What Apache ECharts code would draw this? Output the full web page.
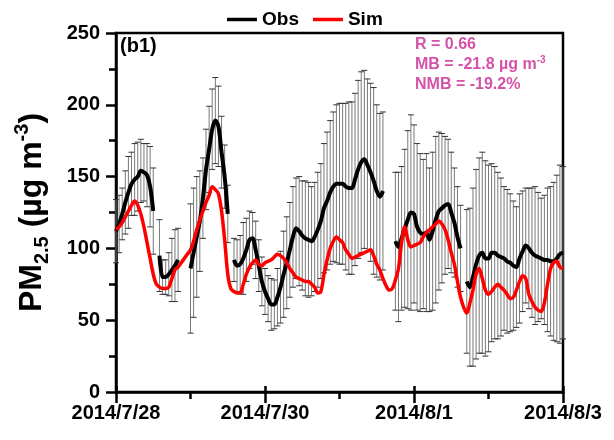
<!DOCTYPE html>
<html>
<head>
<meta charset="utf-8">
<script src="https://cdn.jsdelivr.net/npm/echarts@6/dist/echarts.min.js"></script>
<style>
  html, body { margin: 0; padding: 0; background: #fff; }
  #chart { width: 614px; height: 440px; }
</style>
</head>
<body>
<div id="chart"></div>
<script>
// hourly values from 2014/7/28 00:00 (index = hour)
const dateLabels = ['2014/7/28', '2014/7/30', '2014/8/1', '2014/8/3']

const obsPM = [
  112, 117, 124, 132, 139, 145, 148, 150, 154, 153, 151, 143, 126, null, 95, 80, 80, 82, 85, 88, 92, null, null, null,
  86, 97, 108, 119, 135, 155, 169, 183, 189, 185, 167, 150, 124, null, 92, 88, 89, 93, 99, 106, 107, 99, 88, 77,
  70, 65, 61, 61, 66, 73, 82, 90, 99, 108, 114, 112, 109, 107, 106, 105, 108, 113, 119, 128, 133, 139, 143, 145,
  145, 145, 143, 142, 142, 148, 155, 160, 162, 158, 153, 147, 140, 136, 140, null, null, null, 105, 101, 107, 114, 120, 125,
  124, 115, 111, 110, 111, 106, 112, 120, 126, 128, 130, 131, 125, 118, 108, 100, null, 77, 73, 80, 89, 95, 97, 93,
  93, 97, 97, 95, 94, 93, 91, 90, 88, 87, 93, 98, 102, 100, 97, 95, 94, 93, 92, 92, 91, 91, 93, 96, 97
]

const obsSD = [
  22, 20, 18, 22, 25, 22, 25, 24, 22, 20, 22, 28, 30, null, 25, 12, 12, 15, 22, 25, 22, null, null, null,
  45, 45, 42, 35, 28, 28, 30, 28, 30, 28, 25, 22, 20, null, 15, 18, 20, 25, 22, 20, 18, 20, 18, 17,
  16, 16, 18, 17, 20, 25, 30, 32, 33, 35, 35, 38, 38, 40, 40, 38, 38, 40, 40, 45, 48, 50, 52, 55,
  56, 56, 58, 60, 60, 60, 62, 63, 62, 60, 62, 65, 60, 58, 55, null, null, null, 48, 52, 50, 55, 62, 68,
  62, 58, 55, 52, 55, 50, 55, 58, 55, 52, 48, 45, 42, 38, 35, 30, null, 50, 55, 62, 66, 68, 70, 68,
  65, 62, 60, 58, 55, 50, 50, 48, 45, 42, 45, 42, 40, 42, 45, 48, 45, 42, 45, 50, 52, 55, 58, 62, 60
]

const simPM = [
  113, 115, 118, 122, 126, 130, 133, 130, 124, 115, 104, 93, 82, 75, 73, 72, 72, 73, 79, 85, 87, 90, 93, 96,
  99, 105, 113, 120, 126, 132, 137, 143, 141, 138, 126, 106, 82, 72, 70, 69, 69, 75, 82, 87, 90, 92, 89, 88,
  90, 91, 92, 94, 96, 95, 93, 90, 86, 83, 80, 79, 78, 77, 77, 75, 73, 69, 70, 82, 92, 100, 105, 108,
  106, 104, 99, 96, 93, 94, 95, 96, 97, 98, 99, 95, 89, 85, 79, 74, 71, 72, 78, 86, 104, 115, 106, 101,
  102, 103, 104, 108, 111, 113, 115, 117, 119, 117, 113, 106, 97, 89, 77, 66, 59, 55, 62, 71, 82, 86, 79, 71,
  68, 70, 73, 75, 73, 71, 68, 65, 66, 71, 77, 81, 79, 68, 63, 59, 57, 56, 62, 75, 86, 90, 91, 87, 86
]

const statLines = ['R = 0.66', 'MB = -21.8 µg m', 'NMB = -19.2%']

const obsLine = obsPM.map((v, i) => [i, v == null ? '-' : v])
const simLine = simPM.map((v, i) => [i, v])
const bars = []
obsPM.forEach((v, i) => {
  if (v != null) bars.push([i, v - obsSD[i], v + obsSD[i]])
})

const chart = echarts.init(document.getElementById('chart'), null, { renderer: 'canvas' })
const bold = { fontFamily: 'Liberation Sans, Arial, sans-serif', fontWeight: 'bold', color: '#000' }
const pink = '#d452a8'

chart.setOption({
  animation: false,
  grid: {
    left: 116, right: 51, top: 33, bottom: 48,
    show: true, borderColor: '#000', borderWidth: 2.5,
  },
  legend: {
    top: 5,
    left: 222,
    icon: 'rect',
    itemWidth: 30,
    itemHeight: 3.5,
    itemGap: 14,
    data: ['Obs', 'Sim'],
    textStyle: { ...bold, fontSize: 19, padding: [0, 0, 0, 0] },
  },
  xAxis: [
    {
      type: 'value',
      min: 0, max: 144, interval: 48,
      axisLine: { lineStyle: { color: '#000', width: 2.5 } },
      axisTick: { length: 11, lineStyle: { color: '#000', width: 2.5 } },
      minorTick: { show: true, splitNumber: 2, length: 7, lineStyle: { color: '#000', width: 2.5 } },
      splitLine: { show: false },
      axisLabel: {
        ...bold, fontSize: 20, margin: 11,
        formatter: v => dateLabels[Math.round(v / 48)],
      },
    },
    {
      type: 'value', position: 'bottom',
      min: 0, max: 144, interval: 48,
      axisLine: { show: false },
      axisTick: { inside: true, length: 6, lineStyle: { color: '#000', width: 2.5 } },
      axisLabel: { show: false },
      splitLine: { show: false },
    },
  ],
  yAxis: {
    type: 'value',
    min: 0, max: 250, interval: 50,
    axisLine: { show: true, lineStyle: { color: '#000', width: 2.5 } },
    axisTick: { show: true, length: 10, lineStyle: { color: '#000', width: 2.5 } },
    minorTick: { show: true, splitNumber: 2, length: 7, lineStyle: { color: '#000', width: 2.5 } },
    splitLine: { show: false },
    axisLabel: { ...bold, fontSize: 20, margin: 16 },
    name: '{b|PM}{sub|2.5}{b| (µg m}{sup|-3}{b|)}',
    nameLocation: 'middle',
    nameRotate: 90,
    nameGap: 64,
    nameTextStyle: {
      rich: {
        b: { ...bold, fontSize: 32, lineHeight: 40, verticalAlign: 'middle' },
        sub: { ...bold, fontSize: 20, lineHeight: 20, verticalAlign: 'bottom' },
        sup: { ...bold, fontSize: 20, lineHeight: 20, verticalAlign: 'top' },
      },
    },
  },
  graphic: [
    { type: 'text', left: 120, top: 36, style: { text: '(b1)', font: 'bold 20px Liberation Sans, Arial', fill: '#000' } },
    {
      type: 'text', left: 415, top: 37,
      style: {
        text: '{a|' + statLines[0] + '}\n{a|' + statLines[1] + '}{s|-3}\n{a|' + statLines[2] + '}',
        rich: {
          a: { fontFamily: 'Liberation Sans, Arial', fontWeight: 'bold', fontSize: 16, lineHeight: 20, fill: pink, verticalAlign: 'middle' },
          s: { fontFamily: 'Liberation Sans, Arial', fontWeight: 'bold', fontSize: 10, lineHeight: 10, fill: pink, verticalAlign: 'top' },
        },
      },
    },
  ],
  series: [
    {
      name: 'errbar',
      type: 'custom',
      data: bars,
      encode: { x: 0, y: [1, 2] },
      z: 1,
      renderItem(params, api) {
        const x = api.value(0)
        const lo = api.coord([x, api.value(1)])
        const hi = api.coord([x, api.value(2)])
        const w = 3
        return {
          type: 'group',
          children: [
            { type: 'line', shape: { x1: lo[0], y1: lo[1], x2: hi[0], y2: hi[1] }, style: { stroke: '#7a7a7a', lineWidth: 1 } },
            { type: 'line', shape: { x1: lo[0] - w, y1: lo[1], x2: lo[0] + w, y2: lo[1] }, style: { stroke: '#333', lineWidth: 1 } },
            { type: 'line', shape: { x1: hi[0] - w, y1: hi[1], x2: hi[0] + w, y2: hi[1] }, style: { stroke: '#333', lineWidth: 1 } },
          ],
        }
      },
    },
    {
      name: 'Obs',
      type: 'line',
      data: obsLine,
      symbol: 'none',
      smooth: 0.3,
      connectNulls: false,
      z: 3,
      lineStyle: { color: '#000', width: 4 },
      itemStyle: { color: '#000' },
    },
    {
      name: 'Sim',
      type: 'line',
      data: simLine,
      symbol: 'none',
      smooth: 0.3,
      z: 4,
      lineStyle: { color: '#ff0000', width: 3.5 },
      itemStyle: { color: '#ff0000' },
    },
  ],
})
</script>
</body>
</html>
